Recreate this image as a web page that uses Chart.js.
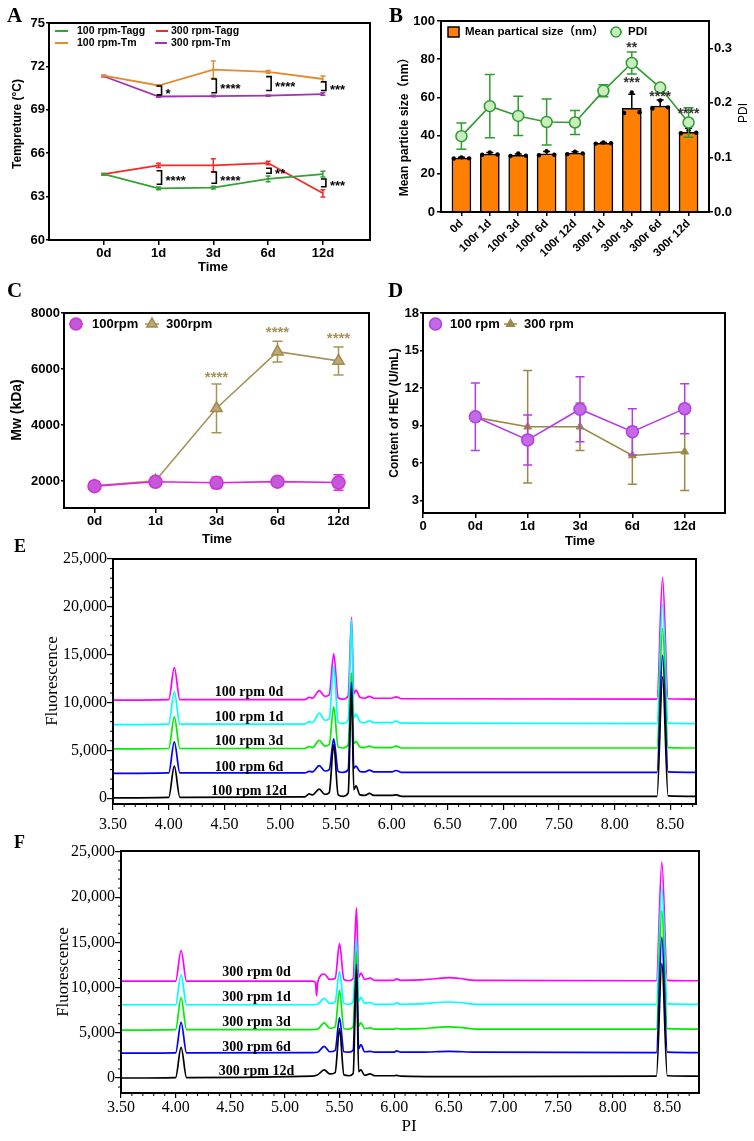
<!DOCTYPE html>
<html>
<head>
<meta charset="utf-8">
<title>HEV stability panels</title>
<script src="https://cdn.jsdelivr.net/npm/chart.js@4.4.0/dist/chart.umd.min.js"></script>
<style>
  body { margin: 0; background: #fff; width: 754px; height: 1141px; position: relative; overflow: hidden; }
  canvas { position: absolute; }
</style>
</head>
<body>
<script>
// ---------- data ----------
const days = ['0d', '1d', '3d', '6d', '12d'];
const dayPos = [0, 1, 2, 3, 4];

// A - Tagg / Tm (°C)
const tempTicks = [60, 63, 66, 69, 72, 75];
const tagg100 = [64.55, 63.57, 63.62, 64.22, 64.55];
const tagg300 = [64.55, 65.16, 65.16, 65.32, 63.23];
const tm100 = [71.36, 70.68, 71.78, 71.62, 71.13];
const tm300 = [71.32, 69.92, 69.95, 69.98, 70.09];
const tagg100Err = [0.05, 0.1, 0.1, 0.2, 0.2];
const tagg300Err = [0.05, 0.15, 0.45, 0.12, 0.25];
const tm100Err = [0.05, 0.05, 0.6, 0.1, 0.2];
const tm300Err = [0.05, 0.05, 0.05, 0.05, 0.08];
const sigAx = [1, 2, 3, 4, 1, 2, 3, 4];
const sigAtop = [70.65, 71.13, 71.29, 70.94, 64.79, 64.70, 64.96, 64.22];
const sigAbot = [70.03, 70.18, 70.33, 70.33, 63.85, 63.92, 64.61, 63.68];
const sigAtext = ['*', '****', '****', '***', '****', '****', '**', '***'];

// B - particle size (nm) and PDI
const sizeCats = ['0d', '100r 1d', '100r 3d', '100r 6d', '100r 12d', '300r 1d', '300r 3d', '300r 6d', '300r 12d'];
const sizeMean = [28.2, 30.3, 29.7, 30.4, 30.8, 36.0, 54.3, 55.5, 41.7];
const sizeErr = [0.4, 0.8, 0.7, 1.3, 0.8, 0.4, 7.3, 3.1, 2.1];
const sizeRep1 = [28.0, 30.0, 29.3, 29.7, 30.3, 35.8, 51.8, 54.2, 41.2];
const sizeRep2 = [28.6, 31.2, 30.6, 31.8, 31.6, 36.4, 62.6, 58.4, 42.8];
const sizeRep3 = [28.1, 30.1, 29.5, 30.0, 30.7, 36.0, 52.2, 54.8, 41.5];
const pdi = [0.139, 0.194, 0.176, 0.165, 0.164, 0.222, 0.273, 0.228, 0.164];
const pdiErr = [0.024, 0.058, 0.036, 0.042, 0.022, 0.011, 0.020, 0.004, 0.027];
const sizeTicks = [0, 20, 40, 60, 80, 100];
const pdiTicks = [0, 0.1, 0.2, 0.3];
const starsBx = [6, 6, 7, 8];
const starsBy = [85.9, 67.3, 60.3, 51.3];
const starsBtext = ['**', '***', '****', '****'];

// C - Mw (kDa)
const mwTicks = [2000, 4000, 6000, 8000];
const mw100 = [1820, 1975, 1940, 1980, 1950];
const mw100Err = [150, 110, 200, 50, 280];
const mw300 = [1830, 2010, 4600, 6620, 6290];
const mw300Err = [150, 130, 870, 370, 500];
const starsCx = [2, 3, 4];
const starsCy = [5700, 7280, 7070];

// D - HEV content (U/mL)
const hevTicks = [3, 6, 9, 12, 15, 18];
const hevXTicks = [-1, 0, 1, 2, 3, 4];
const hevXLabels = ['0', '0d', '1d', '3d', '6d', '12d'];
const hev100 = [9.7, 7.85, 10.3, 8.5, 10.35];
const hev100Err = [2.7, 2.0, 2.6, 1.85, 2.0];
const hev300 = [9.65, 8.9, 8.9, 6.6, 6.9];
const hev300Err = [0.3, 4.5, 1.9, 2.3, 3.1];

// E / F - cIEF traces [pI, fluorescence]
const piTicks = [3.5, 4.0, 4.5, 5.0, 5.5, 6.0, 6.5, 7.0, 7.5, 8.0, 8.5];
const fluoTicks = [0, 5000, 10000, 15000, 20000, 25000];

const e0d = [[3.50,10250],[4.0,10300],[4.05,13650],[4.1,10300],[5.22,10300],[5.26,10550],[5.29,10450],[5.35,11250],[5.40,10650],[5.44,10800],[5.48,15100],[5.52,10500],[5.565,10350],[5.61,10700],[5.64,18900],[5.66,10900],[5.68,11300],[5.715,10550],[5.76,10450],[5.80,10650],[5.84,10450],[6.0,10450],[6.04,10600],[6.09,10400],[8.38,10350],[8.43,23050],[8.48,10400],[8.73,10350]];
const e1d = [[3.50,7700],[4.0,7750],[4.05,11150],[4.1,7750],[5.22,7750],[5.26,8000],[5.29,7900],[5.35,8900],[5.40,8150],[5.44,8300],[5.48,13800],[5.52,7950],[5.565,7800],[5.61,8200],[5.64,18700],[5.66,8400],[5.68,8800],[5.715,8000],[5.76,7900],[5.80,8100],[5.84,7900],[6.0,7900],[6.04,8050],[6.09,7850],[8.38,7800],[8.43,20300],[8.48,7850],[8.73,7800]];
const e3d = [[3.50,5150],[4.0,5200],[4.05,8500],[4.1,5200],[5.22,5200],[5.26,5400],[5.29,5300],[5.35,6050],[5.40,5450],[5.44,5600],[5.48,9550],[5.52,5350],[5.565,5250],[5.61,5600],[5.64,13100],[5.66,5700],[5.68,5950],[5.715,5350],[5.76,5300],[5.80,5450],[5.84,5300],[6.0,5300],[6.04,5450],[6.09,5250],[8.38,5250],[8.43,17750],[8.48,5300],[8.73,5250]];
const e6d = [[3.50,2600],[4.0,2650],[4.05,5900],[4.1,2650],[5.22,2650],[5.26,2800],[5.29,2750],[5.35,3400],[5.40,2850],[5.44,3000],[5.48,6200],[5.52,2800],[5.565,2700],[5.61,3000],[5.64,12100],[5.66,3150],[5.68,3350],[5.715,2800],[5.76,2750],[5.80,2950],[5.84,2750],[6.0,2750],[6.04,2900],[6.09,2700],[8.38,2700],[8.43,14950],[8.48,2750],[8.73,2700]];
const e12d = [[3.50,50],[4.0,100],[4.05,3350],[4.1,100],[5.22,150],[5.26,450],[5.29,350],[5.35,950],[5.40,400],[5.44,600],[5.48,5600],[5.52,350],[5.565,200],[5.61,550],[5.64,11450],[5.66,900],[5.68,1300],[5.715,350],[5.76,300],[5.80,500],[5.84,300],[6.0,300],[6.04,350],[6.09,200],[8.38,200],[8.43,12700],[8.48,250],[8.73,200]];
const eLabels = ['100 rpm 0d', '100 rpm 1d', '100 rpm 3d', '100 rpm 6d', '100 rpm 12d'];
const eLabelY = [11010, 8500, 5890, 3275, 760];

const f0d = [[3.50,10700],[4.0,10700],[4.05,14100],[4.1,10700],[5.25,10700],[5.28,10550],[5.29,9100],[5.30,10550],[5.36,11500],[5.41,10900],[5.46,11000],[5.50,14850],[5.54,10900],[5.585,10750],[5.625,11000],[5.655,18800],[5.675,11100],[5.695,11600],[5.73,10900],[5.78,11050],[5.82,10800],[6.0,10800],[6.02,10950],[6.06,10800],[6.25,10850],[6.4,11000],[6.5,11100],[6.6,11000],[6.75,10800],[8.4,10750],[8.45,23900],[8.5,10800],[8.79,10750]];
const f1d = [[3.50,8100],[4.0,8100],[4.05,11400],[4.1,8100],[5.25,8100],[5.30,8150],[5.36,8800],[5.41,8250],[5.46,8400],[5.50,11800],[5.54,8250],[5.585,8150],[5.625,8450],[5.655,15400],[5.675,8500],[5.695,8900],[5.73,8250],[5.78,8350],[5.82,8150],[6.0,8150],[6.02,8300],[6.06,8150],[6.25,8200],[6.4,8350],[6.5,8400],[6.6,8350],[6.75,8150],[8.4,8150],[8.45,21200],[8.5,8200],[8.79,8150]];
const f3d = [[3.50,5300],[4.0,5350],[4.05,8900],[4.1,5350],[5.25,5350],[5.30,5400],[5.36,6100],[5.41,5500],[5.46,5650],[5.50,9700],[5.54,5450],[5.585,5400],[5.625,5700],[5.655,14000],[5.675,5700],[5.695,6100],[5.73,5450],[5.78,5550],[5.82,5400],[6.0,5400],[6.02,5500],[6.06,5400],[6.25,5450],[6.4,5600],[6.5,5650],[6.6,5600],[6.75,5400],[8.4,5400],[8.45,18500],[8.5,5450],[8.79,5400]];
const f6d = [[3.50,2750],[4.0,2780],[4.05,6150],[4.1,2780],[5.25,2800],[5.30,2850],[5.36,3500],[5.41,2900],[5.46,3050],[5.50,6650],[5.54,2900],[5.585,2850],[5.625,3100],[5.655,12600],[5.675,3200],[5.695,3700],[5.73,2900],[5.78,2950],[5.82,2850],[6.0,2850],[6.02,3000],[6.06,2850],[6.25,2850],[6.5,2950],[6.75,2850],[8.4,2800],[8.45,15600],[8.5,2850],[8.79,2800]];
const f12d = [[3.50,0],[4.0,50],[4.05,3400],[4.1,50],[5.25,200],[5.30,350],[5.36,900],[5.41,450],[5.46,600],[5.50,5450],[5.54,350],[5.585,250],[5.625,500],[5.655,12000],[5.675,700],[5.695,900],[5.73,300],[5.78,450],[5.82,250],[6.0,250],[6.02,300],[6.06,200],[6.5,150],[8.4,200],[8.45,12700],[8.5,250],[8.79,200]];
const fLabels = ['300 rpm 0d', '300 rpm 1d', '300 rpm 3d', '300 rpm 6d', '300 rpm 12d'];
const fLabelY = [11640, 8890, 6130, 3430, 775];

// ---------- styling ----------
const SANS = '"Liberation Sans", Arial, sans-serif';
const SANS_CJK = '"Liberation Sans", Arial, "Noto Sans CJK SC", sans-serif';
const SERIF = '"Liberation Serif", "Times New Roman", serif';
const tickSans = { family: SANS, size: 13, weight: 'bold' };
const traceColors = ['#000000', '#0000ff', '#00ee00', '#00ffff', '#ff00ff'];

// minor tick positions for the cIEF axes (axis decoration only)
function minorSteps(from, to, step, skipEvery) {
  const out = [];
  for (let k = Math.round(from / step); k * step <= to + 1e-9; k++) {
    if (k % skipEvery !== 0) out.push(+(k * step).toFixed(4));
  }
  return out;
}

// page layout: canvas box and plot area in page pixels
const extras = {
  cA: {
    box: { x: 0, y: 0, w: 377, h: 276 }, area: { l: 49, t: 23, r: 370, b: 240 }, frame: 2,
    texts: [
      { text: 'A', x: 7, y: 22, font: 'bold 21px ' + SERIF, align: 'left', base: 'alphabetic' },
      { text: 'Tempreture (°C)', x: 18, y: 124, rot: -90, font: 'bold 12px ' + SANS },
      { text: 'Time', x: 213, y: 267, font: 'bold 13px ' + SANS }
    ],
    keyFont: 'bold 10.5px ' + SANS,
    keys: [
      { x0: 55, x1: 68, y: 31, color: '#35a035', text: '100 rpm-Tagg', tx: 77 },
      { x0: 156, x1: 168, y: 31, color: '#f52828', text: '300 rpm-Tagg', tx: 171 },
      { x0: 55, x1: 68, y: 43, color: '#e38a2e', text: '100 rpm-Tm', tx: 77 },
      { x0: 155, x1: 167, y: 43, color: '#a033b3', text: '300 rpm-Tm', tx: 171 }
    ],
    brackets: sigAx.map((x, i) => ({ x, y1: sigAtop[i], y2: sigAbot[i], text: sigAtext[i] })),
    bracketFont: 'bold 13px ' + SANS
  },
  cB: {
    box: { x: 377, y: 0, w: 377, h: 276 }, area: { l: 441, t: 21, r: 709, b: 212 }, frame: 2, rightAxis: true,
    texts: [
      { text: 'B', x: 389, y: 22, font: 'bold 21px ' + SERIF, align: 'left', base: 'alphabetic' },
      { text: 'Mean particle size（nm）', x: 405, y: 124, rot: -90, font: 'bold 12px ' + SANS_CJK },
      { text: 'PDI', x: 744, y: 113, rot: -90, font: '12px ' + SANS }
    ],
    keyFont: 'bold 11.5px ' + SANS_CJK,
    keys: [
      { x0: 448, x1: 459, y: 32, line: false, marker: 'rect', r: 5.5, fill: '#ff8000', stroke: '#000', text: 'Mean partical size（nm）', tx: 465 },
      { x0: 610, x1: 622, y: 32, color: '#2e9b2e', lw: 1.5, marker: 'circle', r: 5, fill: '#c8eec0', text: 'PDI', tx: 628 }
    ],
    notes: starsBx.map((x, i) => ({ x, y: starsBy[i], text: starsBtext[i], font: 'bold 14px ' + SANS, color: '#333' }))
  },
  cC: {
    box: { x: 0, y: 276, w: 377, h: 276 }, area: { l: 64, t: 313, r: 370, b: 508 }, frame: 2,
    texts: [
      { text: 'C', x: 7, y: 297, font: 'bold 21px ' + SERIF, align: 'left', base: 'alphabetic' },
      { text: 'Mw (kDa)', x: 17, y: 410, rot: -90, font: 'bold 14px ' + SANS },
      { text: 'Time', x: 217, y: 539, font: 'bold 13px ' + SANS }
    ],
    keyFont: 'bold 13px ' + SANS,
    keys: [
      { x0: 69, x1: 83, y: 324, color: '#e024e0', lw: 1.5, marker: 'circle', r: 6, fill: '#c558d8', stroke: '#d030d8', text: '100rpm', tx: 92 },
      { x0: 145, x1: 159, y: 324, color: '#a8925a', lw: 1.5, marker: 'triangle', r: 6, fill: '#bca878', stroke: '#a08a4a', text: '300rpm', tx: 166 }
    ],
    notes: starsCx.map((x, i) => ({ x, y: starsCy[i], text: '****', font: 'bold 15px ' + SANS, color: '#a8925a' }))
  },
  cD: {
    box: { x: 377, y: 276, w: 377, h: 276 }, area: { l: 423, t: 313, r: 725, b: 513 }, frame: 2,
    texts: [
      { text: 'D', x: 388, y: 297, font: 'bold 21px ' + SERIF, align: 'left', base: 'alphabetic' },
      { text: 'Content of HEV (U/mL)', x: 395, y: 413, rot: -90, font: 'bold 12px ' + SANS },
      { text: 'Time', x: 580, y: 541, font: 'bold 13px ' + SANS }
    ],
    keyFont: 'bold 13px ' + SANS,
    keys: [
      { x0: 429, x1: 442, y: 324, color: '#b43ce6', lw: 1.5, marker: 'circle', r: 6, fill: '#c46ae6', text: '100 rpm', tx: 450 },
      { x0: 504, x1: 517, y: 324, color: '#9c8846', lw: 1.5, marker: 'triangle', r: 4.5, fill: '#9c8846', text: '300 rpm', tx: 524 }
    ]
  },
  cE: {
    box: { x: 0, y: 532, w: 754, h: 300 }, area: { l: 113, t: 559, r: 696, b: 804 }, frame: 2,
    minor: { xs: minorSteps(3.5, 8.7, 0.1, 5), ys: minorSteps(0, 25000, 1000, 5) },
    texts: [
      { text: 'E', x: 14, y: 552, font: 'bold 18px ' + SERIF, align: 'left', base: 'alphabetic' },
      { text: 'Fluorescence', x: 53, y: 681, rot: -90, font: '17px ' + SERIF }
    ],
    notes: eLabels.map((t, i) => ({ x: 4.72, y: eLabelY[i], text: t, font: 'bold 14px ' + SERIF }))
  },
  cF: {
    box: { x: 0, y: 832, w: 754, h: 309 }, area: { l: 121, t: 851, r: 699, b: 1093 }, frame: 2,
    minor: { xs: minorSteps(3.5, 8.7, 0.1, 5), ys: minorSteps(-1000, 25000, 1000, 5) },
    texts: [
      { text: 'F', x: 14, y: 848, font: 'bold 18px ' + SERIF, align: 'left', base: 'alphabetic' },
      { text: 'Fluorescence', x: 64, y: 972, rot: -90, font: '17px ' + SERIF },
      { text: 'PI', x: 409, y: 1127, font: '17px ' + SERIF }
    ],
    notes: fLabels.map((t, i) => ({ x: 4.74, y: fLabelY[i], text: t, font: 'bold 14px ' + SERIF }))
  }
};

function drawMarker(ctx, kind, x, y, r, fill, stroke) {
  ctx.save();
  ctx.fillStyle = fill; ctx.strokeStyle = stroke; ctx.lineWidth = 1.5;
  ctx.beginPath();
  if (kind === 'circle') {
    ctx.arc(x, y, r, 0, Math.PI * 2);
  } else if (kind === 'triangle') {
    ctx.moveTo(x, y - r);
    ctx.lineTo(x + r * 0.866, y + r * 0.5);
    ctx.lineTo(x - r * 0.866, y + r * 0.5);
    ctx.closePath();
  } else {
    ctx.rect(x - r, y - r * 0.9, r * 2, r * 1.8);
  }
  ctx.fill(); ctx.stroke();
  ctx.restore();
}

// error bars, frame, legends, brackets, labels
const decor = {
  id: 'decor',
  beforeDatasetDraw(chart, args) {
    const ds = chart.data.datasets[args.index];
    if (!ds.errs) return;
    const meta = args.meta;
    const ys = chart.scales[meta.yAxisID];
    const ctx = chart.ctx;
    ctx.save();
    ctx.strokeStyle = ds.errColor || ds.borderColor;
    ctx.lineWidth = 1.5;
    ctx.beginPath();
    meta.data.forEach((el, i) => {
      const e = ds.errs[i];
      if (!e) return;
      const v = ds.data[i].y;
      const top = ys.getPixelForValue(v + e), bot = ys.getPixelForValue(v - e);
      const c = ds.cap || 4;
      ctx.moveTo(el.x, top); ctx.lineTo(el.x, bot);
      ctx.moveTo(el.x - c, top); ctx.lineTo(el.x + c, top);
      ctx.moveTo(el.x - c, bot); ctx.lineTo(el.x + c, bot);
    });
    ctx.stroke();
    ctx.restore();
  },
  afterDraw(chart) {
    const ex = extras[chart.canvas.id];
    const ctx = chart.ctx, a = chart.chartArea;
    const ox = ex.box.x, oy = ex.box.y;
    const xs = chart.scales.x, ys = chart.scales.y;
    ctx.save();
    if (ex.minor) {
      ctx.strokeStyle = '#000'; ctx.lineWidth = 1;
      ctx.beginPath();
      ex.minor.xs.forEach(v => { const p = xs.getPixelForValue(v); ctx.moveTo(p, a.bottom); ctx.lineTo(p, a.bottom + 3); });
      ex.minor.ys.forEach(v => {
        if (v < ys.min) return;
        const p = ys.getPixelForValue(v); ctx.moveTo(a.left, p); ctx.lineTo(a.left - 3, p);
      });
      ctx.stroke();
    }
    ctx.strokeStyle = '#000'; ctx.lineWidth = ex.frame;
    ctx.strokeRect(a.left, a.top, a.right - a.left, a.bottom - a.top);

    (ex.brackets || []).forEach(b => {
      const x = xs.getPixelForValue(b.x) + 3;
      const y1 = ys.getPixelForValue(b.y1), y2 = ys.getPixelForValue(b.y2);
      ctx.strokeStyle = '#000'; ctx.lineWidth = 1.6;
      ctx.beginPath();
      ctx.moveTo(x - 5, y1); ctx.lineTo(x, y1); ctx.lineTo(x, y2); ctx.lineTo(x - 5, y2);
      ctx.stroke();
      ctx.font = ex.bracketFont; ctx.fillStyle = '#000';
      ctx.textAlign = 'left'; ctx.textBaseline = 'middle';
      ctx.fillText(b.text, x + 4, (y1 + y2) / 2 + 4);
    });

    (ex.notes || []).forEach(n => {
      ctx.font = n.font; ctx.fillStyle = n.color || '#000';
      ctx.textAlign = 'center'; ctx.textBaseline = 'middle';
      ctx.fillText(n.text, xs.getPixelForValue(n.x), ys.getPixelForValue(n.y));
    });

    (ex.keys || []).forEach(k => {
      const y = k.y - oy, x0 = k.x0 - ox, x1 = k.x1 - ox;
      if (k.line !== false) {
        ctx.strokeStyle = k.color; ctx.lineWidth = k.lw || 2;
        ctx.beginPath(); ctx.moveTo(x0, y); ctx.lineTo(x1, y); ctx.stroke();
      }
      if (k.marker) drawMarker(ctx, k.marker, (x0 + x1) / 2, y, k.r, k.fill, k.stroke || k.color);
      ctx.font = ex.keyFont; ctx.fillStyle = '#000';
      ctx.textAlign = 'left'; ctx.textBaseline = 'middle';
      ctx.fillText(k.text, k.tx - ox, y);
    });

    (ex.texts || []).forEach(t => {
      ctx.save();
      ctx.translate(t.x - ox, t.y - oy);
      if (t.rot) ctx.rotate(t.rot * Math.PI / 180);
      ctx.font = t.font; ctx.fillStyle = '#000';
      ctx.textAlign = t.align || 'center'; ctx.textBaseline = t.base || 'middle';
      ctx.fillText(t.text, 0, 0);
      ctx.restore();
    });
    ctx.restore();
  }
};

function axis(o) {
  return {
    type: 'linear', min: o.min, max: o.max, offset: false, position: o.position,
    afterBuildTicks: s => { s.ticks = o.ticks.map(v => ({ value: v })); },
    ticks: {
      color: '#000', font: o.font || tickSans, padding: o.pad || 0, autoSkip: false,
      minRotation: o.rot || 0, maxRotation: o.rot || 0, callback: o.label
    },
    grid: { drawOnChartArea: false, offset: false, color: '#000', lineWidth: o.lw || 1.5, tickLength: o.tickLen || 4 },
    border: { color: '#000', width: o.bw || 2 }
  };
}

function makeChart(id, config) {
  const ex = extras[id];
  const c = document.createElement('canvas');
  c.id = id;
  c.width = ex.box.w; c.height = ex.box.h;
  c.style.left = ex.box.x + 'px'; c.style.top = ex.box.y + 'px';
  document.body.appendChild(c);

  const xH = ex.box.y + ex.box.h - ex.area.b;
  const yW = ex.area.l - ex.box.x;
  const rW = ex.box.x + ex.box.w - ex.area.r;
  const sc = config.options.scales;
  sc.x.afterFit = s => { s.height = xH; s.paddingLeft = 0; s.paddingRight = 0; };
  sc.y.afterFit = s => { s.width = yW; s.paddingTop = 0; s.paddingBottom = 0; };
  if (sc.y1) sc.y1.afterFit = s => { s.width = rW; s.paddingTop = 0; s.paddingBottom = 0; };

  config.options.responsive = false;
  config.options.animation = false;
  config.options.layout = { padding: { left: 0, bottom: 0, top: ex.area.t - ex.box.y, right: ex.rightAxis ? 0 : rW } };
  config.options.plugins = { legend: { display: false }, tooltip: { enabled: false } };
  config.plugins = [decor];
  return new Chart(c, config);
}

const pts = (vals) => vals.map((v, i) => ({ x: dayPos[i], y: v }));

// ---------- A ----------
makeChart('cA', {
  type: 'line',
  data: {
    datasets: [
      { data: pts(tagg100), errs: tagg100Err, borderColor: '#35a035', cap: 2.5 },
      { data: pts(tagg300), errs: tagg300Err, borderColor: '#f52828', cap: 2.5 },
      { data: pts(tm100), errs: tm100Err, borderColor: '#e38a2e', cap: 2.5 },
      { data: pts(tm300), errs: tm300Err, borderColor: '#a033b3', cap: 2.5 }
    ].map(d => Object.assign(d, { borderWidth: 1.8, pointRadius: 0, tension: 0 }))
  },
  options: {
    scales: {
      x: axis({ min: -1, max: 4.86, ticks: dayPos, label: (v, i) => days[i], tickLen: 5, pad: 1 }),
      y: axis({ min: 60, max: 75, ticks: tempTicks, label: v => v, tickLen: 3, pad: 1 })
    }
  }
});

// ---------- B ----------
const repOffsets = [-0.27, 0, 0.27];
const repPoints = [sizeRep1, sizeRep2, sizeRep3].flatMap((rep, j) =>
  rep.map((v, i) => ({ x: i + repOffsets[j], y: v })));

makeChart('cB', {
  type: 'bar',
  data: {
    datasets: [
      {
        type: 'line', order: 0, yAxisID: 'y1',
        data: pdi.map((v, i) => ({ x: i, y: v })), errs: pdiErr, cap: 5,
        borderColor: '#2e9b2e', borderWidth: 1.6, pointRadius: 5.5,
        pointBackgroundColor: '#c8eec0', pointBorderColor: '#2e9b2e', pointBorderWidth: 1.5
      },
      {
        type: 'scatter', order: 1, yAxisID: 'y', data: repPoints,
        pointRadius: 2.2, backgroundColor: '#000', borderWidth: 0
      },
      {
        type: 'bar', order: 2, yAxisID: 'y',
        data: sizeMean.map((v, i) => ({ x: i, y: v })), errs: sizeErr, errColor: '#000', cap: 3.5,
        backgroundColor: '#ff8000', borderColor: '#000', borderWidth: 1.5, barThickness: 19, borderSkipped: 'bottom'
      }
    ]
  },
  options: {
    scales: {
      x: axis({ min: -0.72, max: 8.72, ticks: sizeCats.map((c, i) => i), label: (v, i) => sizeCats[i], rot: 45, tickLen: 4, pad: 1,
                font: { family: SANS, size: 11.5, weight: 'bold' } }),
      y: axis({ min: 0, max: 100, ticks: sizeTicks, label: v => v, tickLen: 4, pad: 2 }),
      y1: axis({ min: 0, max: 0.35, ticks: pdiTicks, label: v => v.toFixed(1), tickLen: 4, pad: 1, position: 'right' })
    }
  }
});

// ---------- C ----------
makeChart('cC', {
  type: 'line',
  data: {
    datasets: [
      {
        data: pts(mw100), errs: mw100Err, cap: 5,
        borderColor: '#e024e0', borderWidth: 1.6, pointRadius: 6.5, pointStyle: 'circle',
        pointBackgroundColor: '#c558d8', pointBorderColor: '#d030d8', pointBorderWidth: 1.5
      },
      {
        data: pts(mw300), errs: mw300Err, cap: 5,
        borderColor: '#a8925a', borderWidth: 1.6, pointRadius: 6.5, pointStyle: 'triangle',
        pointBackgroundColor: '#bca878', pointBorderColor: '#a08a4a', pointBorderWidth: 1.5
      }
    ]
  },
  options: {
    scales: {
      x: axis({ min: -0.5, max: 4.5, ticks: dayPos, label: (v, i) => days[i], tickLen: 5, pad: 1 }),
      y: axis({ min: 1040, max: 8000, ticks: mwTicks, label: v => v, tickLen: 3, pad: 1 })
    }
  }
});

// ---------- D ----------
makeChart('cD', {
  type: 'line',
  data: {
    datasets: [
      {
        data: pts(hev100), errs: hev100Err, cap: 4.5,
        borderColor: '#b43ce6', borderWidth: 1.6, pointRadius: 6, pointStyle: 'circle',
        pointBackgroundColor: '#c46ae6', pointBorderColor: '#b43ce6', pointBorderWidth: 1.5
      },
      {
        data: pts(hev300), errs: hev300Err, cap: 4.5,
        borderColor: '#9c8846', borderWidth: 1.6, pointRadius: 4.5, pointStyle: 'triangle',
        pointBackgroundColor: '#9c8846', pointBorderColor: '#9c8846', pointBorderWidth: 1
      }
    ]
  },
  options: {
    scales: {
      x: axis({ min: -1, max: 4.77, ticks: hevXTicks, label: (v, i) => hevXLabels[i], tickLen: 5, pad: 1 }),
      y: axis({ min: 2, max: 18, ticks: hevTicks, label: v => v, tickLen: 3, pad: 1 })
    }
  }
});

// ---------- E / F ----------
function traceSets(list) {
  return list.map((d, i) => ({
    data: d, borderColor: traceColors[i], borderWidth: 1.7, pointRadius: 0,
    cubicInterpolationMode: 'monotone'
  }));
}
const serifTicks = { family: SERIF, size: 16 };

makeChart('cE', {
  type: 'line',
  data: { datasets: traceSets([e12d, e6d, e3d, e1d, e0d]) },
  options: {
    scales: {
      x: axis({ min: 3.5, max: 8.73, ticks: piTicks, label: v => v.toFixed(2), font: serifTicks, tickLen: 6, pad: 5, lw: 1.2, bw: 1.5 }),
      y: axis({ min: -600, max: 25000, ticks: fluoTicks, label: v => v.toLocaleString('en-US'), font: serifTicks, tickLen: 6, pad: 0, lw: 1.2, bw: 1.5 })
    }
  }
});

makeChart('cF', {
  type: 'line',
  data: { datasets: traceSets([f12d, f6d, f3d, f1d, f0d]) },
  options: {
    scales: {
      x: axis({ min: 3.5, max: 8.79, ticks: piTicks, label: v => v.toFixed(2), font: serifTicks, tickLen: 5, pad: 0, lw: 1.2, bw: 1.5 }),
      y: axis({ min: -1660, max: 25100, ticks: fluoTicks, label: v => v.toLocaleString('en-US'), font: serifTicks, tickLen: 6, pad: 0, lw: 1.2, bw: 1.5 })
    }
  }
});
</script>
</body>
</html>
